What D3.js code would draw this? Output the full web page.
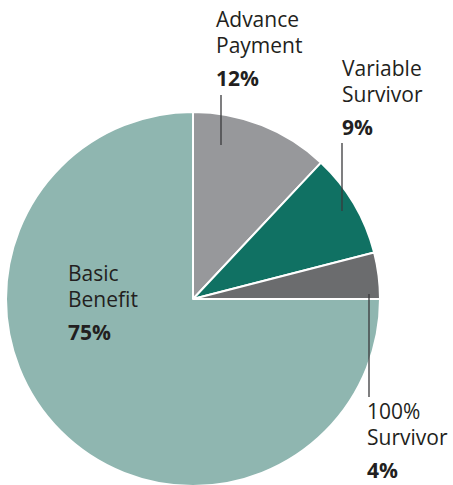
<!DOCTYPE html>
<html>
<head>
<meta charset="utf-8">
<script src="https://cdn.jsdelivr.net/npm/d3@7"></script>
<style>
  html, body { margin: 0; padding: 0; background: #fff; }
  svg text { font-family: "Open Sans", "Noto Sans", sans-serif; fill: #231f20; }
</style>
</head>
<body>
<svg id="chart" width="453" height="485"></svg>
<script>
// Data
const categories = ["Advance Payment", "Variable Survivor", "100% Survivor", "Basic Benefit"];
const values = [12, 9, 4, 75];
const labelLines = [["Advance", "Payment"], ["Variable", "Survivor"], ["100%", "Survivor"], ["Basic", "Benefit"]];
const colors = ["#97989b", "#107163", "#6b6c6e", "#8fb6b0"];

// Layout (label placement)
const labelPos = [
  { x: 216, y: 27, line: [221, 95, 221, 145] },
  { x: 342, y: 76, line: [342, 143, 342, 211] },
  { x: 367, y: 419, line: [369, 294, 369, 397] },
  { x: 68, y: 281, line: null }
];

const svg = d3.select("#chart");
const cx = 193, cy = 299, R = 187;

const pie = d3.pie().sort(null).value(d => d.value).startAngle(0).endAngle(2 * Math.PI);
const arc = d3.arc().innerRadius(0).outerRadius(R);
const data = categories.map((c, i) => ({ name: c, value: values[i], color: colors[i] }));

const g = svg.append("g").attr("transform", `translate(${cx},${cy})`);
g.selectAll("path")
  .data(pie(data))
  .join("path")
  .attr("d", arc)
  .attr("fill", d => d.data.color)
  .attr("stroke", "#fff")
  .attr("stroke-width", 2)
  .attr("stroke-linejoin", "round");

// leader lines
svg.selectAll("line.leader")
  .data(labelPos.filter(p => p.line))
  .join("line")
  .attr("class", "leader")
  .attr("x1", p => p.line[0]).attr("y1", p => p.line[1])
  .attr("x2", p => p.line[2]).attr("y2", p => p.line[3])
  .attr("stroke", "#3a3a3c")
  .attr("stroke-width", 1.3);

// labels
const fs = 21;
categories.forEach((c, i) => {
  const p = labelPos[i];
  const t = svg.append("text").attr("x", p.x).attr("y", p.y).style("font-size", fs + "px");
  labelLines[i].forEach((ln, j) => {
    t.append("tspan").attr("x", p.x).attr("y", p.y + j * 25.5).text(ln);
  });
  svg.append("text")
    .attr("x", p.x).attr("y", p.y + 59)
    .style("font-size", fs + "px")
    .style("font-weight", "bold")
    .text(values[i] + "%");
});
</script>
</body>
</html>
